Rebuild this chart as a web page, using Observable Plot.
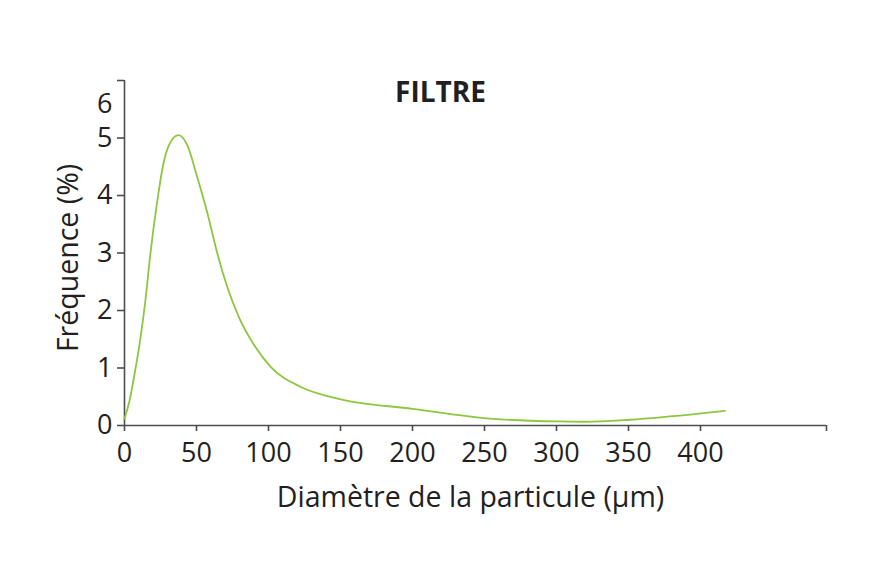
<!DOCTYPE html>
<html><head><meta charset="utf-8">
<script src="https://cdn.jsdelivr.net/npm/d3@7"></script>
<script src="https://cdn.jsdelivr.net/npm/@observablehq/plot@0.6"></script>
<style>body{margin:0;background:#fff}</style>
</head><body><div id="chart"></div>
<script>
const title = "FILTRE";
const xLabel = "Diamètre de la particule (µm)";
const yLabel = "Fréquence (%)";
const diameter = [0, 3.5, 7, 10.5, 14.5, 18, 22.5, 27.5, 32, 37.5, 43.5, 50.5, 57.5, 64.5, 71.5, 79.5, 90, 101.5, 122.5, 149.5, 200, 249.5, 300.5, 320, 351, 400.5, 417];
const frequency = [0.12, 0.43, 0.9, 1.42, 2.17, 2.99, 3.86, 4.61, 4.93, 5.05, 4.88, 4.32, 3.7, 2.99, 2.4, 1.88, 1.4, 1.02, 0.67, 0.46, 0.29, 0.13, 0.07, 0.065, 0.1, 0.21, 0.255];
const xTicks = [0, 50, 100, 150, 200, 250, 300, 350, 400];
const yTicks = [0, 1, 2, 3, 4, 5];
const yTopTick = [6];
const xMax = 487.5;
const yMax = 6;

const data = diameter.map((d, i) => ({d, f: frequency[i]}));
const ink = "#231f20";
const axisInk = "#4d4d4f";
const fmt = d => String(d);

const chart = Plot.plot({
  width: 888, height: 563,
  marginLeft: 124, marginRight: 62, marginTop: 80, marginBottom: 138,
  style: {fontFamily: "'Open Sans', sans-serif", fontSize: "27px", color: ink, background: "#fff"},
  x: {domain: [0, xMax]},
  y: {domain: [0, yMax]},
  marks: [
    Plot.ruleY([0], {stroke: axisInk, strokeWidth: 1.6}),
    Plot.ruleX([0], {stroke: axisInk, strokeWidth: 1.6}),
    Plot.axisX({ticks: xTicks, tickFormat: fmt, tickSize: 6, tickPadding: 11, stroke: axisInk, strokeWidth: 1.6, fill: ink, fontSize: 27, label: null}),
    Plot.axisX({ticks: [xMax], tickSize: 6, tickFormat: () => "", stroke: axisInk, strokeWidth: 1.6, label: null}),
    Plot.axisY({ticks: yTicks, tickFormat: fmt, tickSize: 7, tickPadding: 5, stroke: axisInk, strokeWidth: 1.6, fill: ink, fontSize: 27, label: null}),
    Plot.axisY({ticks: yTopTick, tickSize: 7, text: null, stroke: axisInk, strokeWidth: 1.6, label: null}),
    Plot.axisY({ticks: yTopTick, tickFormat: fmt, tickSize: 0, tickPadding: 12, dy: 24, fill: ink, fontSize: 27, label: null}),
    Plot.line(data, {x: "d", y: "f", curve: "monotone-x", stroke: "#8dc63f", strokeWidth: 1.8}),
    Plot.text([xLabel], {frameAnchor: "bottom", textAnchor: "middle", dx: -5, dy: 72, lineAnchor: "middle", fontSize: 28.5, fill: ink}),
    Plot.text([yLabel], {frameAnchor: "left", textAnchor: "middle", rotate: -90, dx: -56, dy: 5, lineAnchor: "middle", fontSize: 28.5, fill: ink}),
    Plot.text([title], {frameAnchor: "top", textAnchor: "middle", dx: -35, dy: 13, lineAnchor: "middle", fontSize: 28, fontWeight: "bold", fill: ink})
  ]
});
document.getElementById("chart").appendChild(chart);
</script>
</body></html>
